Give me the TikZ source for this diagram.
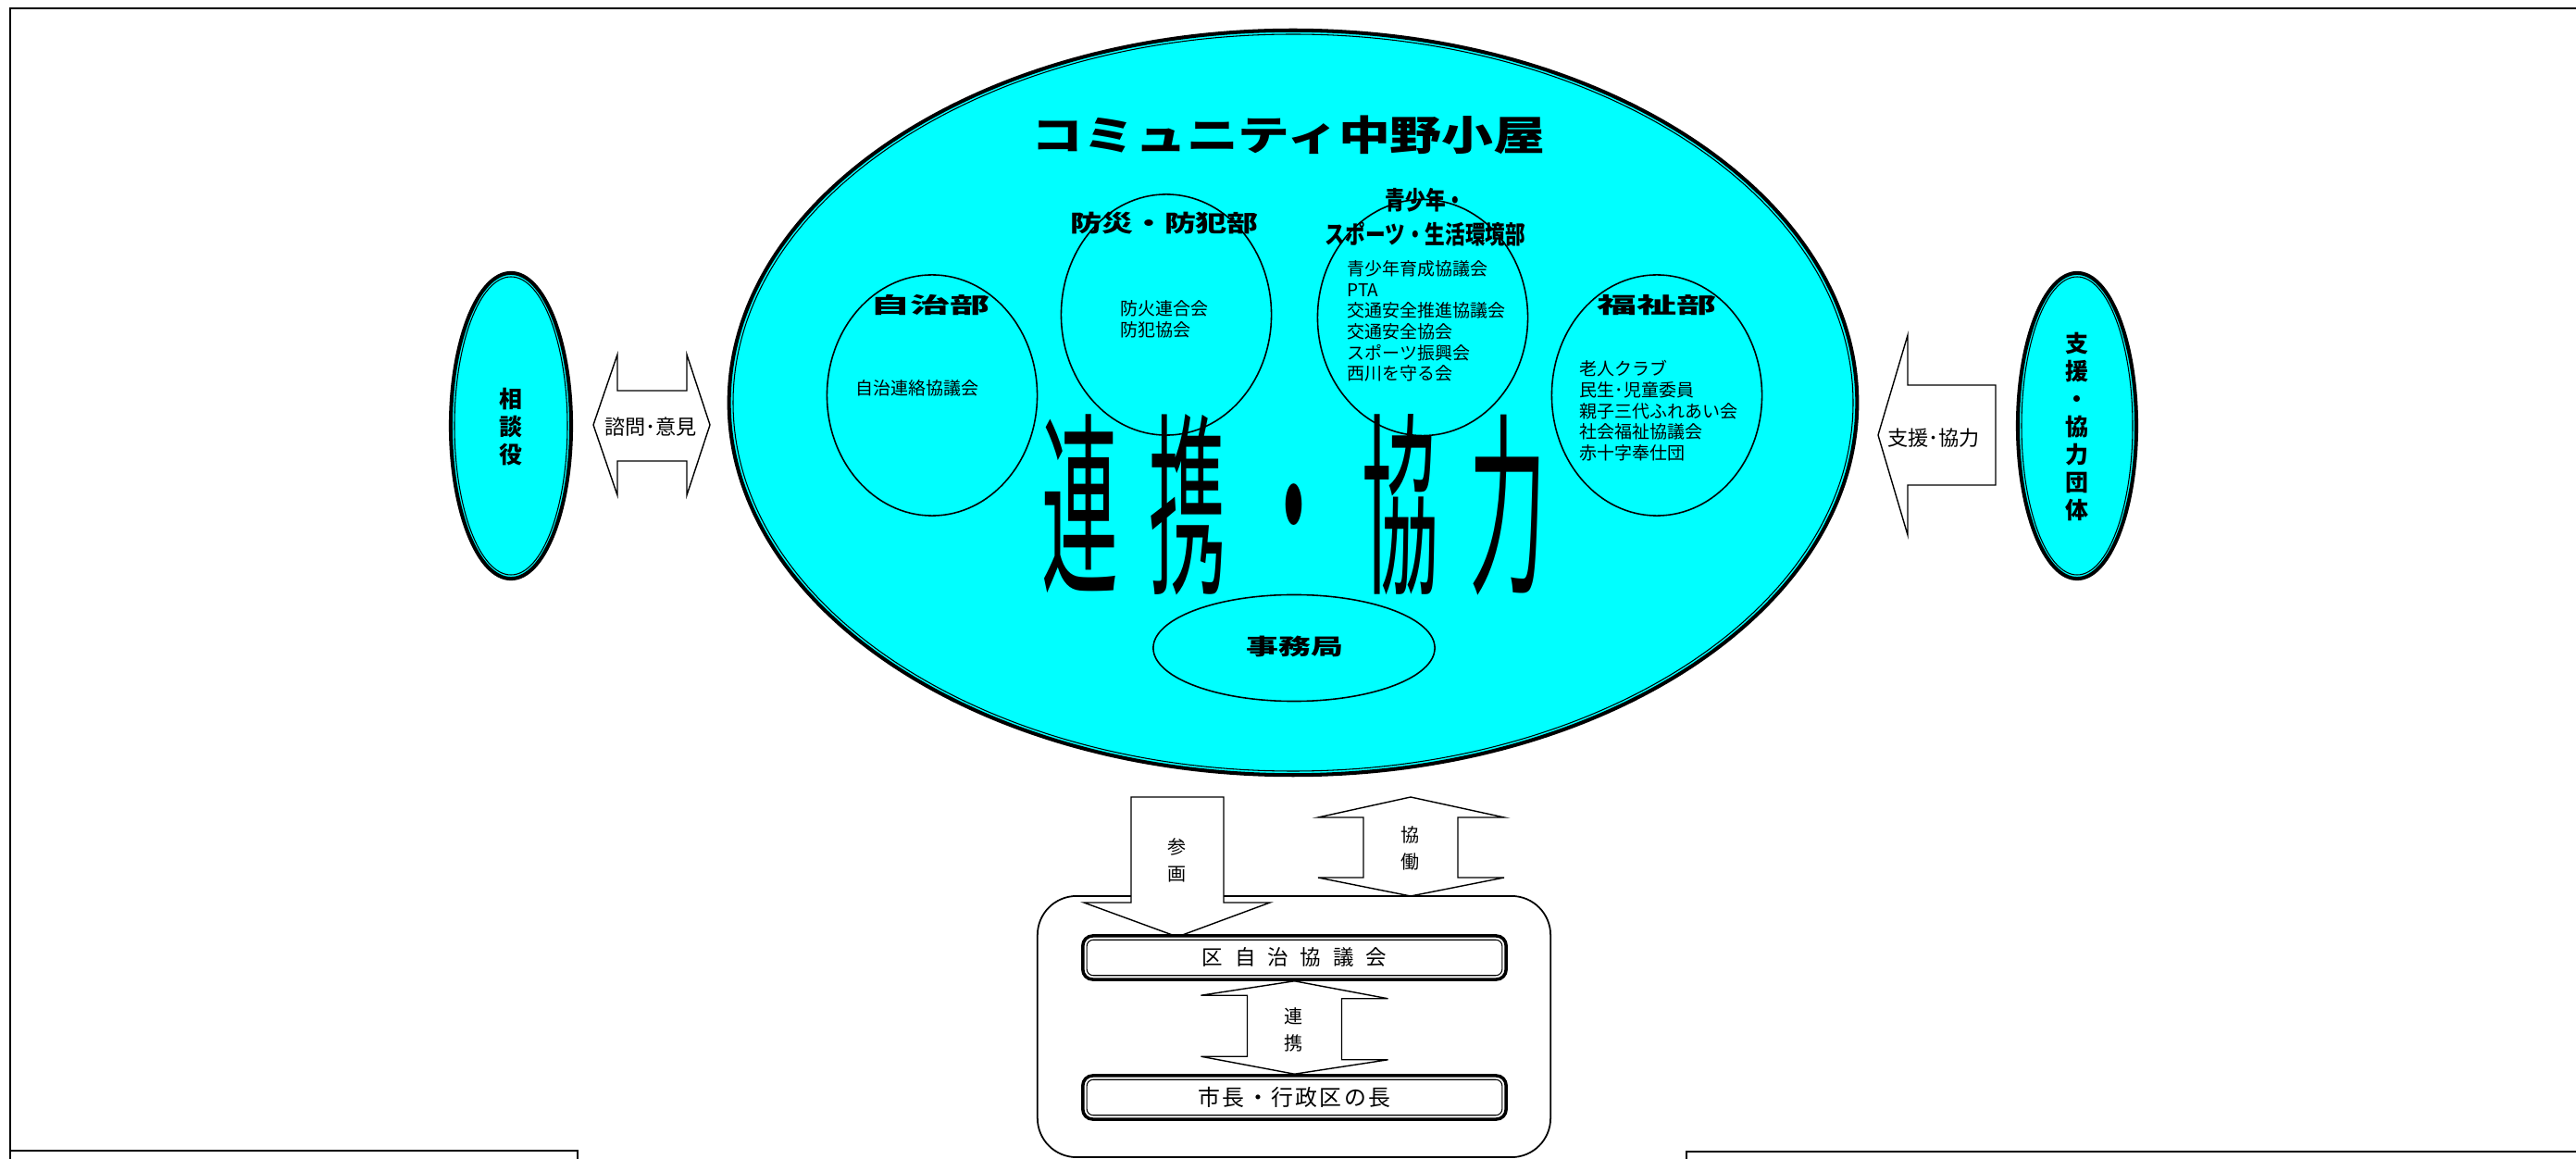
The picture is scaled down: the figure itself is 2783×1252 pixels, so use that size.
\documentclass[tikz,border=0pt]{standalone}
\usepackage{fontspec}
\usepackage{graphicx}
\usepackage{tikz}
\setmainfont{Noto Sans CJK JP}
\usetikzlibrary{shapes.geometric}
\usetikzlibrary{positioning}
\definecolor{aqua}{HTML}{00FFFF}
\newcommand{\stretchtext}[3]{\fontsize{#1}{#1}\selectfont\scalebox{#2}[1]{#3}}
\tikzstyle{hall} = [ellipse, draw=black, line width=1.15pt, fill=aqua, inner sep=0pt]
\tikzstyle{dept} = [ellipse, draw=black, line width=0.45pt, fill=aqua, inner sep=0pt, minimum width=2.27cm, minimum height=2.6cm]
\tikzstyle{head} = [inner sep=0pt, font=\bfseries]
\tikzstyle{members} = [align=left, inner sep=0pt, font=\fontsize{5.4pt}{6.45pt}\selectfont]
\tikzstyle{vert} = [align=center, inner sep=0pt, font=\bfseries\fontsize{7.1pt}{8.5pt}\selectfont]
\tikzstyle{vsmall} = [align=center, inner sep=0pt, font=\fontsize{5.7pt}{8.25pt}\selectfont]
\tikzstyle{blockarrow} = [draw=black, line width=0.4pt, fill=white]
\tikzstyle{council} = [rectangle, rounded corners=3pt, draw=black, line width=1pt, fill=white, minimum width=4.57cm, minimum height=0.47cm, inner sep=0pt]
\tikzstyle{frame} = [draw=black, line width=0.5pt]

\begin{document}
\begin{tikzpicture}[x=0.01cm, y=-0.01cm]
    \useasboundingbox (0,0) rectangle (2783,1252);
    % page frame and the two boxes cut off at the bottom
    \draw [frame] (11,9) rectangle (2850,1300);
    \draw [frame] (11,1243) rectangle (624,1300);
    \draw [frame] (1822,1244) rectangle (2850,1300);

    % community hall
    \node (comm) [hall, minimum width=12.18cm, minimum height=8.04cm] at (1397,435) {};
    \draw [line width=0.3pt] (comm.center) ellipse [x radius=605, y radius=398];
    \node (title) [head] at (1392,146) {\stretchtext{12.5pt}{1.27}{コミュニティ中野小屋}};

    \node (jichi) [dept] at (1007,427) {};
    \node (bosai) [dept] at (1260,340) {};
    \node (seisho) [dept, minimum height=2.55cm] at (1537,343) {};
    \node (fukushi) [dept] at (1790,427) {};
    \node (jimu) [dept, minimum width=3.04cm, minimum height=1.15cm] at (1398,700) {};

    \node (jichiHead) [head] at (1005,330) {\stretchtext{6.7pt}{1.83}{自治部}};
    \node (bosaiHead) [head] at (1258,241) {\stretchtext{7.1pt}{1.36}{防災・防犯部}};
    \node (seishoHead) [head, align=center, font=\bfseries\fontsize{7.7pt}{10.5pt}\selectfont] at (1540,235) {\scalebox{0.8}[1]{青少年・}\\\scalebox{0.8}[1]{スポーツ・生活環境部}};
    \node (fukushiHead) [head] at (1790,330) {\stretchtext{6.7pt}{1.83}{福祉部}};
    \node (jimuHead) [head] at (1399,698) {\stretchtext{6.8pt}{1.46}{事務局}};

    \node (jichiList) [members] at (991,419) {自治連絡協議会};
    \node (bosaiList) [members, anchor=west] at (1210,345) {防火連合会\\防犯協会};
    \node (seishoList) [members, anchor=west] at (1455,347) {青少年育成協議会\\PTA\\交通安全推進協議会\\交通安全協会\\スポーツ振興会\\西川を守る会};
    \node (fukushiList) [members, anchor=west] at (1706,444) {老人クラブ\\民生･児童委員\\親子三代ふれあい会\\社会福祉協議会\\赤十字奉仕団};

    \node (renkei) at (1398,545) {\fontsize{23.6pt}{28pt}\selectfont\addfontfeature{LetterSpace=39}\scalebox{1}[2.55]{連携・協力}};

    % advisers and supporters
    \node (soudan) [hall, minimum width=1.3cm, minimum height=3.3cm] at (552,460) {};
    \draw [line width=0.3pt] (soudan.center) ellipse [x radius=61, y radius=161];
    \node (soudanText) [vert] at (552,461) {相\\談\\役};
    \node (shien) [hall, minimum width=1.28cm, minimum height=3.3cm] at (2244,460) {};
    \draw [line width=0.3pt] (shien.center) ellipse [x radius=60, y radius=161];
    \node (shienText) [vert] at (2244,461) {支\\援\\・\\協\\力\\団\\体};

    \coordinate (adviceTip) at (641,459);
    \draw [blockarrow] (adviceTip) -- ++(26,-76) -- ++(0,39) -- ++(75,0) -- ++(0,-39) -- ++(25,76) -- ++(-25,76) -- ++(0,-37) -- ++(-75,0) -- ++(0,37) -- cycle;
    \node (advice) at (703,461) {\fontsize{6.3pt}{7pt}\selectfont 諮問･意見};
    \coordinate (supportTip) at (2029,470);
    \draw [blockarrow] (supportTip) -- ++(32,-108) -- ++(0,54) -- ++(95,0) -- ++(0,108) -- ++(-95,0) -- ++(0,54) -- cycle;
    \node (support) at (2089,473) {\fontsize{6.3pt}{7pt}\selectfont 支援･協力};

    % ward council
    \node (kuframe) [draw=black, line width=0.5pt, rounded corners=12pt, minimum width=5.54cm, minimum height=2.82cm, inner sep=0pt] at (1398,1109) {};
    \coordinate (sangaTop) at (1222,861);
    \draw [blockarrow] (sangaTop) -- ++(100,0) -- ++(0,114) -- ++(50,0) -- ++(-100,37) -- ++(-101,-37) -- ++(51,0) -- cycle;
    \coordinate (kyodoTop) at (1524,861);
    \draw [blockarrow] (kyodoTop) -- ++(101,22) -- ++(-50,0) -- ++(0,65) -- ++(50,0) -- ++(-101,20) -- ++(-100,-20) -- ++(49,0) -- ++(0,-65) -- ++(-49,0) -- cycle;

    \node (kugi) [council] at (1398.5,1034.5) {\fontsize{6.4pt}{7pt}\selectfont\addfontfeature{LetterSpace=57}区自治協議会};
    \draw [line width=0.3pt, rounded corners=2pt] ([shift={(6,6)}]kugi.north west) rectangle ([shift={(-6,-6)}]kugi.south east);
    \node (shicho) [council] at (1398.5,1185.5) {\fontsize{6.8pt}{7pt}\selectfont\addfontfeature{LetterSpace=10}市長・行政区の長};
    \draw [line width=0.3pt, rounded corners=2pt] ([shift={(6,6)}]shicho.north west) rectangle ([shift={(-6,-6)}]shicho.south east);
    \draw [blockarrow] (kugi.south) -- ++(101,19) -- ++(-50,0) -- ++(0,66) -- ++(50,0) -- (shicho.north) -- ++(-101,-19) -- ++(50,0) -- ++(0,-66) -- ++(-50,0) -- cycle;

    \node (sanga) [vsmall] at (1272,929) {参\\画};
    \node (kyodo) [vsmall] at (1524,916) {協\\働};
    \node (renkeiSmall) [vsmall] at (1398,1112) {連\\携};
\end{tikzpicture}
\end{document}
